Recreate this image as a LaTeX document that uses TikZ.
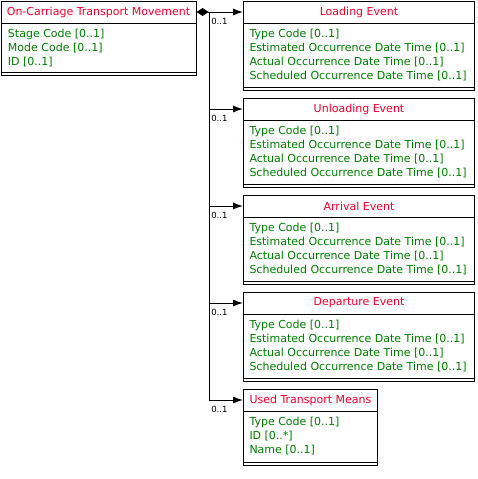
\documentclass[tikz,border=0pt]{standalone}
\usepackage{fontspec}
\setmainfont{DejaVu Sans}
\usetikzlibrary{positioning,arrows.meta}
\definecolor{titlered}{RGB}{235,0,45}
\definecolor{attrgreen}{RGB}{0,125,0}

\begin{document}
\begin{tikzpicture}[x=1pt, y=-1pt, line width=1pt, >={Latex[length=10pt,width=7pt]},
    every node/.style={font=\fontsize{11}{14}\selectfont, inner sep=0pt},
    box/.style={draw, anchor=north west, minimum height=#1},
    title/.style={text=titlered, minimum height=21pt, anchor=north west},
    attrs/.style={text=attrgreen, align=left},
    mult/.style={font=\fontsize{8.5}{10}\selectfont, anchor=north east, xshift=-15pt, yshift=-6pt}]
    \useasboundingbox (0,0) rectangle (477,479);

    % Draw Source Class
    \node (move) [box=74pt, minimum width=195pt] at (0.5,1) {};
    \node (moveT) [title, minimum width=195pt] at (move.north west) {On-Carriage Transport Movement};
    \draw (moveT.south west) -- (moveT.south east);
    \node (moveA) [attrs, below right=6pt and 7pt of moveT.south west] {Stage Code [0..1]\\Mode Code [0..1]\\ID [0..1]};
    \draw ([yshift=4pt]move.south west) -- ([yshift=4pt]move.south east);

    % Draw Loading Event
    \node (load) [box=89pt, minimum width=231pt] at (243,1) {};
    \node (loadT) [title, minimum width=231pt] at (load.north west) {Loading Event};
    \draw (loadT.south west) -- (loadT.south east);
    \node (loadA) [attrs, below right=6pt and 6pt of loadT.south west] {Type Code [0..1]\\Estimated Occurrence Date Time [0..1]\\Actual Occurrence Date Time [0..1]\\Scheduled Occurrence Date Time [0..1]};
    \draw ([yshift=4pt]load.south west) -- ([yshift=4pt]load.south east);

    % Draw Unloading Event
    \node (unload) [box=89pt, minimum width=231pt] at (243,98) {};
    \node (unloadT) [title, minimum width=231pt] at (unload.north west) {Unloading Event};
    \draw (unloadT.south west) -- (unloadT.south east);
    \node (unloadA) [attrs, below right=6pt and 6pt of unloadT.south west] {Type Code [0..1]\\Estimated Occurrence Date Time [0..1]\\Actual Occurrence Date Time [0..1]\\Scheduled Occurrence Date Time [0..1]};
    \draw ([yshift=4pt]unload.south west) -- ([yshift=4pt]unload.south east);

    % Draw Arrival Event
    \node (arrive) [box=89pt, minimum width=231pt] at (243,195) {};
    \node (arriveT) [title, minimum width=231pt] at (arrive.north west) {Arrival Event};
    \draw (arriveT.south west) -- (arriveT.south east);
    \node (arriveA) [attrs, below right=6pt and 6pt of arriveT.south west] {Type Code [0..1]\\Estimated Occurrence Date Time [0..1]\\Actual Occurrence Date Time [0..1]\\Scheduled Occurrence Date Time [0..1]};
    \draw ([yshift=4pt]arrive.south west) -- ([yshift=4pt]arrive.south east);

    % Draw Departure Event
    \node (depart) [box=89pt, minimum width=231pt] at (243,292) {};
    \node (departT) [title, minimum width=231pt] at (depart.north west) {Departure Event};
    \draw (departT.south west) -- (departT.south east);
    \node (departA) [attrs, below right=6pt and 6pt of departT.south west] {Type Code [0..1]\\Estimated Occurrence Date Time [0..1]\\Actual Occurrence Date Time [0..1]\\Scheduled Occurrence Date Time [0..1]};
    \draw ([yshift=4pt]depart.south west) -- ([yshift=4pt]depart.south east);

    % Draw Used Transport Means
    \node (means) [box=76pt, minimum width=134pt] at (243,389) {};
    \node (meansT) [title, minimum width=134pt] at (means.north west) {Used Transport Means};
    \draw (meansT.south west) -- (meansT.south east);
    \node (meansA) [attrs, below right=6pt and 6pt of meansT.south west] {Type Code [0..1]\\ID [0..*]\\Name [0..1]};
    \draw ([yshift=4pt]means.south west) -- ([yshift=4pt]means.south east);

    % Draw Associations
    \coordinate (trunk) at ([xshift=13pt]moveT.east);
    \draw[{Diamond[length=12pt,width=8pt]}->] (moveT.east) -- (loadT.west) node[mult]{0..1};
    \draw[->] (trunk) |- (unloadT.west) node[mult]{0..1};
    \draw[->] (trunk) |- (arriveT.west) node[mult]{0..1};
    \draw[->] (trunk) |- (departT.west) node[mult]{0..1};
    \draw[->] (trunk) |- (meansT.west) node[mult]{0..1};
\end{tikzpicture}
\end{document}
